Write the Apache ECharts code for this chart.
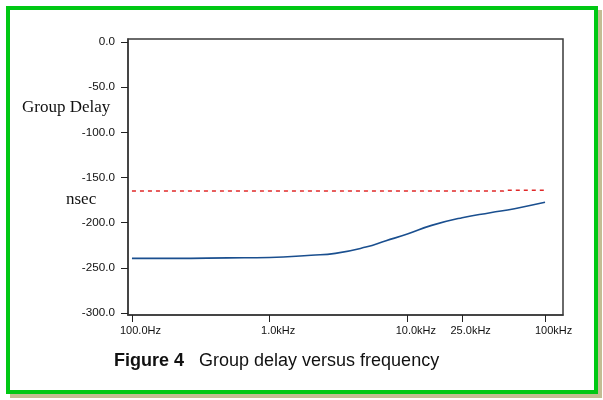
<!DOCTYPE html>
<html>
<head>
    <meta charset="utf-8">
    <script type="text/javascript" src="https://cdn.jsdelivr.net/npm/echarts@6/dist/echarts.min.js"></script>
    <title></title>
    <style>
        body { margin: 0; background: #fff; }
        #main { width: 603px; height: 400px; }
    </style>
</head>
<body>
<div id="main"></div>
<script type="text/javascript">
    // frequency (Hz) and group delay (nsec)
    var freq = [100, 200, 500, 1000, 2000, 3000, 5000, 7000, 10000, 15000, 25000, 40000, 60000, 100000];
    var delay = [-239.5, -239.5, -239, -238.5, -236, -234, -227, -220, -212.5, -203, -194.5, -189, -184.5, -177.5];
    var refFreq = [100, 50000, 52000, 100000];
    var refDelay = [-165, -165, -164, -164];
    var xTicks = [100, 1000, 10000, 25000, 100000];
    var xTickLabels = ['100.0Hz', '1.0kHz', '10.0kHz', '25.0kHz', '100kHz'];
    var yTicks = [0, -50, -100, -150, -200, -250, -300];

    function pairs(xs, ys) {
        var out = [];
        for (var i = 0; i < xs.length; i++) out.push([xs[i], ys[i]]);
        return out;
    }

    var myChart = echarts.init(document.getElementById('main'));
    var option = {
        animation: false,
        backgroundColor: 'transparent',
        grid: {
            left: 128, top: 39, right: 40, bottom: 85,
            show: true, borderColor: '#3a3a3a', borderWidth: 1.5
        },
        xAxis: {
            type: 'log',
            min: 93.6,
            max: 135000,
            axisLine: {show: true, onZero: false, lineStyle: {color: '#3a3a3a', width: 1.5}},
            axisTick: {show: true, customValues: xTicks, length: 7, lineStyle: {color: '#222'}},
            axisLabel: {
                customValues: xTicks,
                margin: 10,
                padding: [0, 0, 0, 17],   // labels sit a bit right of their ticks
                color: '#111',
                fontFamily: 'Liberation Sans, Arial',
                fontSize: 11,
                formatter: function (v) {
                    var i = xTicks.indexOf(Math.round(v));
                    return i >= 0 ? xTickLabels[i] : '';
                }
            },
            splitLine: {show: false},
            minorTick: {show: false}
        },
        yAxis: {
            type: 'value',
            min: -302.2,
            max: 3.3,
            axisLine: {show: true, onZero: false, lineStyle: {color: '#3a3a3a', width: 1.5}},
            axisTick: {show: true, customValues: yTicks, length: 7, lineStyle: {color: '#222'}},
            axisLabel: {
                customValues: yTicks,
                margin: 13,
                color: '#111',
                fontFamily: 'Liberation Sans, Arial',
                fontSize: 11.7,
                formatter: function (v) { return v.toFixed(1); }
            },
            splitLine: {show: false}
        },
        graphic: [
            {type: 'rect', z: -20, silent: true, shape: {x: 10, y: 10, width: 592, height: 388}, style: {fill: '#c3bd93'}},
            {type: 'rect', z: -10, silent: true, shape: {x: 8, y: 8, width: 588, height: 384}, style: {fill: '#fff', stroke: '#00c814', lineWidth: 4}},
            {type: 'text', left: 22, top: 99, style: {text: 'Group Delay', font: '17px "Liberation Serif", "Times New Roman", serif', fill: '#111'}},
            {type: 'text', left: 66, top: 191, style: {text: 'nsec', font: '17px "Liberation Serif", "Times New Roman", serif', fill: '#111'}},
            {
                type: 'text', left: 114, top: 352,
                style: {
                    text: '{b|Figure 4}{n|   Group delay versus frequency}',
                    rich: {
                        b: {font: 'bold 18px "Liberation Sans", Arial', fill: '#111'},
                        n: {font: '18px "Liberation Sans", Arial', fill: '#111'}
                    }
                }
            }
        ],
        series: [
            {
                type: 'line',
                data: pairs(refFreq, refDelay),
                symbol: 'none',
                lineStyle: {color: '#e02828', width: 1.5, type: [4, 4]}
            },
            {
                type: 'line',
                data: pairs(freq, delay),
                symbol: 'none',
                smooth: true,
                lineStyle: {color: '#1a4f8f', width: 1.6}
            }
        ]
    };
    myChart.setOption(option);
</script>
</body>
</html>
